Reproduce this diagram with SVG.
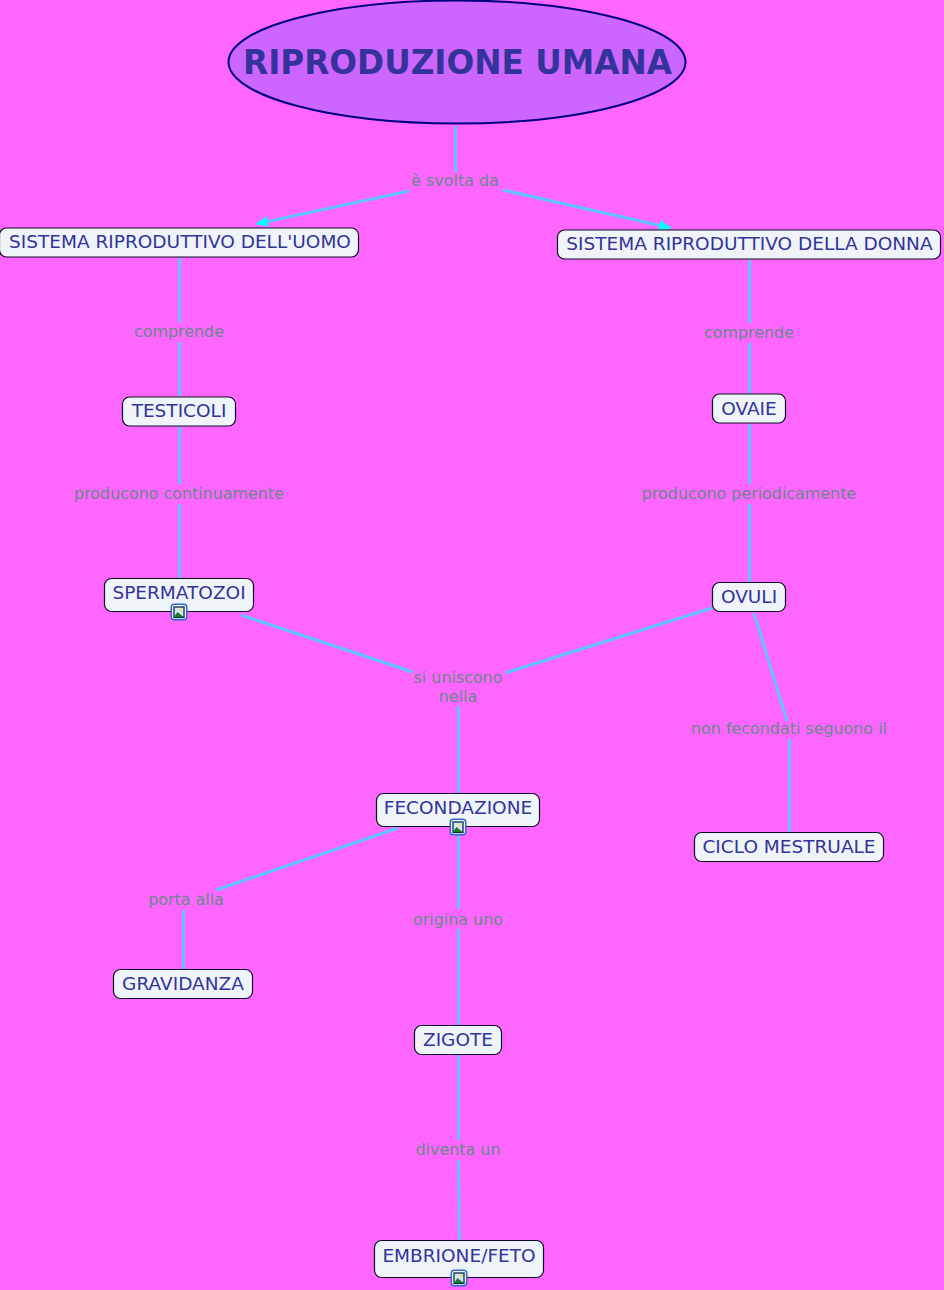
<svg xmlns="http://www.w3.org/2000/svg" width="944" height="1290" viewBox="0 0 944 1290">
<style>
text{font-family:"DejaVu Sans",Verdana,sans-serif}
.n{fill:#eef4f8;stroke:#0a0a20;stroke-width:1.2}
.t{font-size:18.5px;fill:#333399;text-anchor:middle}
.l{font-size:15.900px;fill:#668a8a;text-anchor:middle}
.c{fill:none;stroke:#5fc4ff;stroke-width:3}
</style>
<defs>
<marker id="a" markerUnits="userSpaceOnUse" markerWidth="14" markerHeight="12" refX="12" refY="6" orient="auto"><path d="M0 0.500L12 6L0 11.500z" fill="#00ffff"/></marker>
<g id="ic">
<rect x="0.750" y="0.750" width="15.500" height="15.500" rx="3" fill="#eef4f8" stroke="#3366cc" stroke-width="1.500"/>
<rect x="3.500" y="3.500" width="10" height="10.500" fill="#d4e6f4" stroke="#0a2a50" stroke-width="1.300"/>
<circle cx="10.500" cy="6" r="1.500" fill="#f0e070"/>
<path d="M3.500 13.500L7 8.500L10 11L13.500 13.500z" fill="#1a7a2a"/>
</g>
</defs>
<rect width="944" height="1290" fill="#ff66ff"/>
<g id="connectors">
<path class="c" d="M455.500 126V172"/>
<path class="c" d="M409 191L256 224" marker-end="url(#a)"/>
<path class="c" d="M503 190L671 228" marker-end="url(#a)"/>
<path class="c" d="M179.500 258V322M179.500 342V396M179.500 426V484M179.500 504V578"/>
<path class="c" d="M749.500 260V323M749.500 343V394M749.500 424V484M749.500 504V582"/>
<path class="c" d="M241 615L413 672M712 608L505 673M458.500 706V794"/>
<path class="c" d="M754 613L787 721M789.500 739V832"/>
<path class="c" d="M398 828L216 890M183.500 910V969"/>
<path class="c" d="M458.500 826V909M458.500 929V1026"/>
<path class="c" d="M458.500 1055V1140M458.500 1160L459.500 1241"/>
</g>
<g id="n-title"><ellipse cx="457" cy="62" rx="228.500" ry="61.500" fill="#cc66ff" stroke="#000080" stroke-width="2"/><text x="457.500" y="74" font-size="33px" font-weight="700" fill="#333399" text-anchor="middle" textLength="429" lengthAdjust="spacingAndGlyphs">RIPRODUZIONE UMANA</text></g>
<g id="l-svolta"><text class="l" x="455" y="186">è svolta da</text></g>
<g id="n-uomo"><rect class="n" x="-0.500" y="228" width="359" height="29" rx="7"/><text class="t" x="180" y="248">SISTEMA RIPRODUTTIVO DELL'UOMO</text></g>
<g id="n-donna"><rect class="n" x="557.500" y="230" width="383" height="29" rx="7"/><text class="t" x="749.500" y="250">SISTEMA RIPRODUTTIVO DELLA DONNA</text></g>
<g id="l-c1"><text class="l" x="179" y="337">comprende</text></g>
<g id="l-c2"><text class="l" x="749" y="338">comprende</text></g>
<g id="n-testicoli"><rect class="n" x="122.500" y="397" width="113" height="29" rx="7"/><text class="t" x="179" y="417">TESTICOLI</text></g>
<g id="n-ovaie"><rect class="n" x="712.500" y="394" width="73" height="29" rx="7"/><text class="t" x="749" y="415">OVAIE</text></g>
<g id="l-p1"><text class="l" x="179" y="499">producono continuamente</text></g>
<g id="l-p2"><text class="l" x="749" y="499">producono periodicamente</text></g>
<g id="n-sperm"><rect class="n" x="104.500" y="578.500" width="149" height="33" rx="7"/><text class="t" x="179" y="599">SPERMATOZOI</text><use href="#ic" x="170.500" y="603.500"/></g>
<g id="n-ovuli"><rect class="n" x="712.500" y="582.500" width="73" height="29" rx="7"/><text class="t" x="749" y="603">OVULI</text></g>
<g id="l-unisc"><text class="l" x="458" y="683">si uniscono</text><text class="l" x="458" y="702">nella</text></g>
<g id="l-nonf"><text class="l" x="789" y="734">non fecondati seguono il</text></g>
<g id="n-fec"><rect class="n" x="376.500" y="793.500" width="163" height="33" rx="7"/><text class="t" x="458" y="814">FECONDAZIONE</text><use href="#ic" x="449.500" y="818.500"/></g>
<g id="n-ciclo"><rect class="n" x="694.500" y="832.500" width="189" height="29" rx="7"/><text class="t" x="789" y="853">CICLO MESTRUALE</text></g>
<g id="l-porta"><text class="l" x="186" y="905">porta alla</text></g>
<g id="l-orig"><text class="l" x="458" y="925">origina uno</text></g>
<g id="n-grav"><rect class="n" x="113.500" y="969.500" width="139" height="29" rx="7"/><text class="t" x="183" y="990">GRAVIDANZA</text></g>
<g id="n-zig"><rect class="n" x="414.500" y="1025.500" width="87" height="29" rx="7"/><text class="t" x="458" y="1046">ZIGOTE</text></g>
<g id="l-div"><text class="l" x="458" y="1155">diventa un</text></g>
<g id="n-emb"><rect class="n" x="374.500" y="1240.500" width="169" height="37" rx="7"/><text class="t" x="459" y="1262">EMBRIONE/FETO</text><use href="#ic" x="450.500" y="1269.500"/></g>
</svg>
